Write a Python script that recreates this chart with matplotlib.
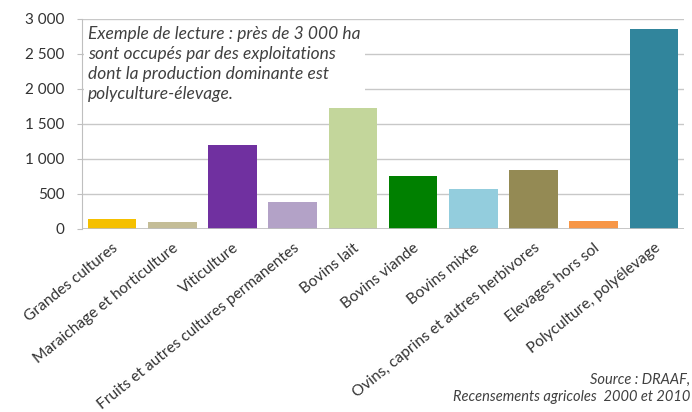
import numpy as np
import matplotlib.pyplot as plt

categories = ['Grandes cultures', 'Maraichage et horticulture', 'Viticulture',
              'Fruits et autres cultures permanentes', 'Bovins lait', 'Bovins viande',
              'Bovins mixte', 'Ovins, caprins et autres herbivores', 'Elevages hors sol',
              'Polyculture, polyélevage']
surfaces = [140, 90, 1195, 375, 1720, 748, 560, 842, 105, 2845]
colors = ['#F5C000', '#C4BD97', '#7030A0', '#B3A2C7', '#C3D69B', '#008000',
          '#93CDDD', '#948A54', '#F79646', '#31859C']
yticks = [0, 500, 1000, 1500, 2000, 2500, 3000]
ytick_labels = ['0', '500', '1 000', '1 500', '2 000', '2 500', '3 000']

plt.rcParams['font.family'] = ['Lato', 'DejaVu Sans']

fig = plt.figure(figsize=(6.92, 4.12), dpi=100)
ax = fig.add_axes([82/692, 1-228.5/412, 602/692, 210/412])

x = np.arange(len(categories))
ax.bar(x, surfaces, width=0.81, color=colors, zorder=3)

ax.set_xlim(-0.5, len(categories) - 0.5)
ax.set_ylim(0, 3000)
ax.set_yticks(yticks)
ax.set_yticklabels(ytick_labels, fontsize=11, color='#333333')
ax.yaxis.grid(True, color='#C8C8C8', linewidth=1, zorder=0)
for s in ['top', 'right', 'bottom']:
    ax.spines[s].set_visible(False)
ax.spines['left'].set_color('#BFBFBF')
ax.tick_params(axis='y', length=3.6, color='#BFBFBF', pad=9)
ax.axhline(0, color='#BFBFBF', linewidth=1.2, zorder=4)

ax.set_xticks(x)
ax.set_xticklabels(categories, rotation=39, ha='right', va='top',
                   rotation_mode='anchor', fontsize=11.2, color='#333333')
ax.tick_params(axis='x', length=0, pad=9)

fig.text(88/692, 1-26/412,
         "Exemple de lecture : près de 3 000 ha\nsont occupés par des exploitations\n"
         "dont la production dominante est\npolyculture-élevage.",
         ha='left', va='top', fontsize=12.5, style='italic', color='#404040',
         linespacing=1.3,
         bbox=dict(facecolor='white', edgecolor='none', pad=3))

fig.text(690/692, 1-380/412, 'Source : DRAAF,', ha='right', va='center',
         fontsize=10.5, style='italic', color='#404040')
fig.text(690/692, 1-397/412, 'Recensements agricoles  2000 et 2010', ha='right', va='center',
         fontsize=10.5, style='italic', color='#404040')

fig.savefig('out.png', dpi=100)
